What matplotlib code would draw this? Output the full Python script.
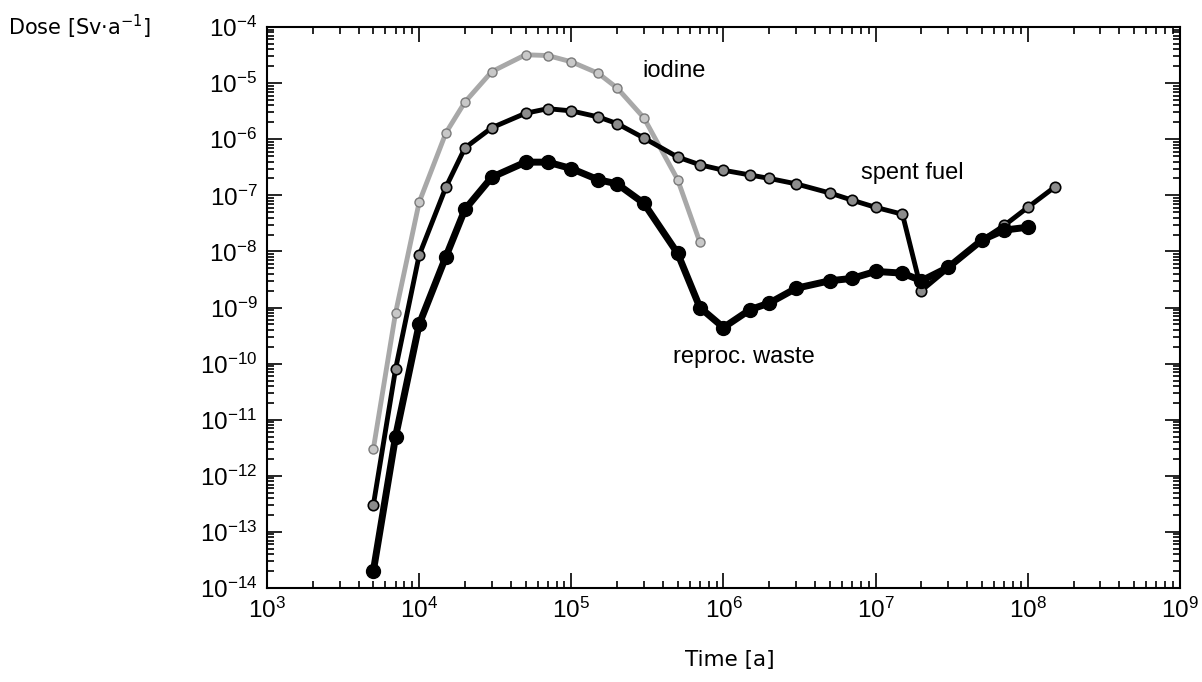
import numpy as np
import matplotlib
matplotlib.use("Agg")
import matplotlib.pyplot as plt
from matplotlib.ticker import LogLocator, FuncFormatter, NullFormatter

plt.rcParams['mathtext.fontset'] = 'custom'
plt.rcParams['mathtext.rm'] = 'Liberation Sans'
plt.rcParams['mathtext.it'] = 'Liberation Sans:italic'
plt.rcParams['mathtext.bf'] = 'Liberation Sans:bold'

# time [a]
t_iodine = [5e3, 7e3, 1e4, 1.5e4, 2e4, 3e4, 5e4, 7e4, 1e5, 1.5e5, 2e5, 3e5, 5e5, 7e5]
dose_iodine = [3e-12, 8e-10, 7.5e-8, 1.3e-6, 4.6e-6, 1.6e-5, 3.2e-5, 3.1e-5,
               2.4e-5, 1.5e-5, 8.2e-6, 2.4e-6, 1.9e-7, 1.45e-8]

t_spent = [5e3, 7e3, 1e4, 1.5e4, 2e4, 3e4, 5e4, 7e4, 1e5, 1.5e5, 2e5, 3e5, 5e5, 7e5,
           1e6, 1.5e6, 2e6, 3e6, 5e6, 7e6, 1e7, 1.5e7, 2e7, 3e7, 5e7, 7e7, 1e8, 1.5e8]
dose_spent = [3e-13, 8e-11, 8.5e-9, 1.4e-7, 7e-7, 1.6e-6, 2.9e-6, 3.5e-6, 3.2e-6,
              2.5e-6, 1.9e-6, 1.05e-6, 4.8e-7, 3.5e-7, 2.8e-7, 2.3e-7, 2.0e-7, 1.6e-7,
              1.1e-7, 8.2e-8, 6.1e-8, 4.6e-8, 2e-9, 5e-9, 1.6e-8, 2.9e-8, 6.1e-8, 1.4e-7]

t_reproc = [5e3, 7e3, 1e4, 1.5e4, 2e4, 3e4, 5e4, 7e4, 1e5, 1.5e5, 2e5, 3e5, 5e5, 7e5,
            1e6, 1.5e6, 2e6, 3e6, 5e6, 7e6, 1e7, 1.5e7, 2e7, 3e7, 5e7, 7e7, 1e8]
dose_reproc = [2e-14, 5e-12, 5e-10, 8.1e-9, 5.6e-8, 2.1e-7, 3.9e-7, 3.9e-7, 3.0e-7,
               1.9e-7, 1.6e-7, 7.2e-8, 9.2e-9, 1e-9, 4.4e-10, 9.2e-10, 1.2e-9, 2.2e-9,
               3e-9, 3.3e-9, 4.4e-9, 4.1e-9, 3e-9, 5.2e-9, 1.6e-8, 2.4e-8, 2.7e-8]

fig = plt.figure(figsize=(12.02, 6.82), dpi=100)
ax = fig.add_axes([0.2221, 0.1378, 0.7596, 0.8226])

ax.plot(t_iodine, dose_iodine, color='#a8a8a8', lw=3.5, marker='o', ms=6.5,
        mfc='#c8c8c8', mec='#7a7a7a', mew=1, zorder=2)
ax.plot(t_spent, dose_spent, color='black', lw=3.5, marker='o', ms=7.5,
        mfc='#8c8c8c', mec='black', mew=1.2, zorder=3)
ax.plot(t_reproc, dose_reproc, color='black', lw=5, marker='o', ms=10,
        mfc='black', mec='black', zorder=4)

ax.set_xscale('log')
ax.set_yscale('log')
ax.set_xlim(1e3, 1e9)
ax.set_ylim(1e-14, 1e-4)

def sci(v, pos):
    e = int(round(np.log10(v)))
    return r'$\mathregular{10^{%d}}$' % e

for axis in (ax.xaxis, ax.yaxis):
    axis.set_major_locator(LogLocator(base=10, numticks=20))
    axis.set_minor_locator(LogLocator(base=10, subs=np.arange(2, 10), numticks=20))
    axis.set_major_formatter(FuncFormatter(sci))
    axis.set_minor_formatter(NullFormatter())

ax.tick_params(which='both', direction='in', top=True, right=True, width=1.2)
ax.tick_params(which='major', length=11, labelsize=17.5, pad=7)
ax.tick_params(which='minor', length=5)
for lab in ax.get_xticklabels() + ax.get_yticklabels():
    lab.set_family('Liberation Sans')
for s in ax.spines.values():
    s.set_linewidth(1.5)

ax.text(2.95e5, 1.28e-5, 'iodine', fontsize=17, family='Liberation Sans',
        ha='left', va='baseline')
ax.text(8.0e6, 1.95e-7, 'spent fuel', fontsize=17, family='Liberation Sans',
        ha='left', va='baseline')
ax.text(4.65e5, 1.03e-10, 'reproc. waste', fontsize=17, family='Liberation Sans',
        ha='left', va='baseline')

fig.text(0.007, 0.960, r'Dose [Sv·a$^{-1}$]', fontsize=15, family='DejaVu Sans',
         math_fontfamily='dejavusans', ha='left', va='center')
fig.text(0.607, 0.032, 'Time [a]', fontsize=15.5, family='DejaVu Sans',
         ha='center', va='center')

fig.savefig('out.png', dpi=100)
